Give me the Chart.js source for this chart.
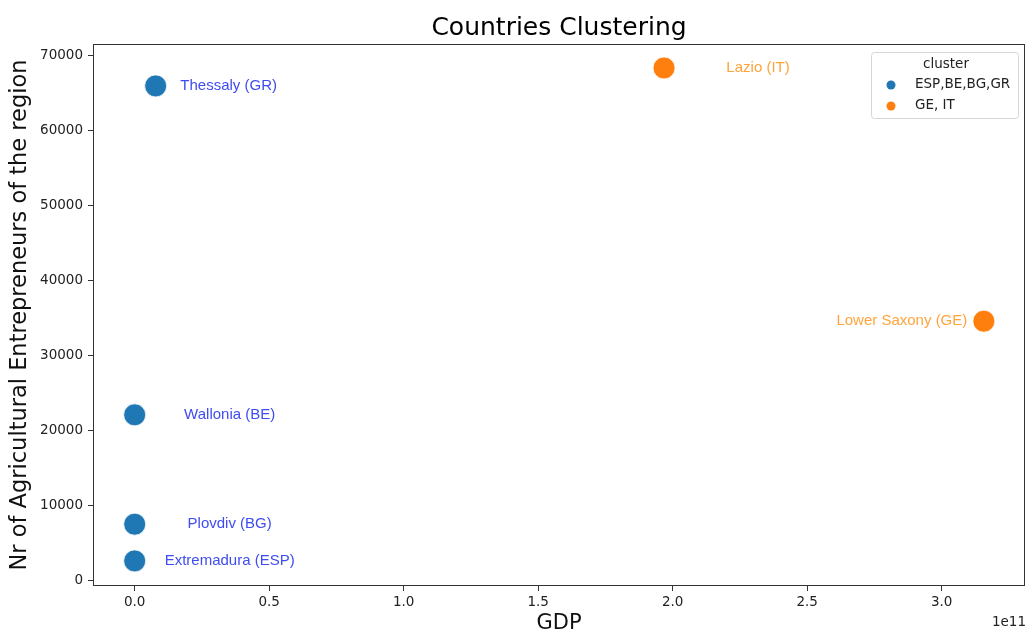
<!DOCTYPE html>
<html>
<head>
<meta charset="utf-8">
<script src="https://cdn.jsdelivr.net/npm/chart.js@4/dist/chart.umd.min.js"></script>
<style>
  html, body { margin: 0; padding: 0; background: #fff; }
</style>
</head>
<body>
<canvas id="clusterChart" width="1027" height="631"></canvas>
<script>
// data
const regions = ['Thessaly (GR)', 'Wallonia (BE)', 'Plovdiv (BG)', 'Extremadura (ESP)', 'Lazio (IT)', 'Lower Saxony (GE)'];
const gdp = [7.8e9, 0, 0, 0, 1.968e11, 3.157e11];
const entrepreneurs = [66000, 22100, 7500, 2600, 68400, 34600];
const cluster = [0, 0, 0, 0, 1, 1];
const clusterNames = ['ESP,BE,BG,GR', 'GE, IT'];
const xTicks = [0, 0.5e11, 1.0e11, 1.5e11, 2.0e11, 2.5e11, 3.0e11];
const yTicks = [0, 10000, 20000, 30000, 40000, 50000, 60000, 70000];

const clusterColors = ['#1f77b4', '#ff7f0e'];
const labelColors = ['#3f4cf0', '#ffa43d'];
// horizontal shift of each region label from its point, in px
const labelDx = [73, 95, 95, 95, 94, -82];

const datasets = clusterNames.map((name, c) => ({
  label: name,
  data: gdp.map((g, i) => ({x: g, y: entrepreneurs[i]})).filter((p, i) => cluster[i] === c),
  backgroundColor: clusterColors[c],
  borderColor: '#ffffff',
  borderWidth: 0.8,
  pointRadius: 11,
  pointHoverRadius: 11
}));

// box around plot, point labels, legend and the 1e11 offset text
const extras = {
  id: 'extras',
  afterDraw(chart) {
    const {ctx, chartArea: a, scales: {x, y}} = chart;
    ctx.save();
    ctx.strokeStyle = '#333';
    ctx.lineWidth = 1;
    ctx.strokeRect(a.left + 0.5, a.top + 0.5, a.right - a.left - 1, a.bottom - a.top - 1);

    ctx.font = '15px "Liberation Sans", Arial, sans-serif';
    ctx.textAlign = 'center';
    ctx.textBaseline = 'middle';
    regions.forEach((r, i) => {
      ctx.fillStyle = labelColors[cluster[i]];
      ctx.fillText(r, x.getPixelForValue(gdp[i]) + labelDx[i], y.getPixelForValue(entrepreneurs[i]));
    });

    // legend
    ctx.beginPath();
    ctx.roundRect(871.5, 52.5, 147, 66, 3);
    ctx.fillStyle = 'rgba(255,255,255,0.8)';
    ctx.fill();
    ctx.strokeStyle = '#d6d6d6';
    ctx.stroke();
    ctx.font = '13.5px "DejaVu Sans", sans-serif';
    ctx.fillStyle = '#222';
    ctx.fillText('cluster', 946, 64);
    ctx.textAlign = 'left';
    clusterNames.forEach((n, c) => {
      const ly = 84 + c * 21;
      ctx.beginPath();
      ctx.arc(891, ly + 1, 4.5, 0, Math.PI * 2);
      ctx.fillStyle = clusterColors[c];
      ctx.fill();
      ctx.fillStyle = '#222';
      ctx.fillText(n, 915, ly);
    });

    ctx.textAlign = 'right';
    ctx.fillText('1e11', 1026, 622);
    ctx.restore();
  }
};

new Chart(document.getElementById('clusterChart'), {
  type: 'scatter',
  data: {datasets: datasets},
  plugins: [extras],
  options: {
    responsive: false,
    animation: false,
    layout: {autoPadding: false, padding: {left: 0, right: 2, top: 0, bottom: 0}},
    plugins: {
      legend: {display: false},
      tooltip: {enabled: false},
      title: {
        display: true,
        text: 'Countries Clustering',
        fullSize: false,
        color: '#000',
        font: {family: '"DejaVu Sans", sans-serif', size: 25, weight: 'normal', lineHeight: 1.2},
        padding: {top: 13, bottom: 1}
      }
    },
    scales: {
      x: {
        type: 'linear',
        min: -0.155e11,
        max: 3.31e11,
        afterFit: s => { s.height = 45; s.paddingLeft = 0; s.paddingRight = 0; },
        afterBuildTicks: s => { s.ticks = xTicks.map(v => ({value: v})); },
        border: {display: false},
        grid: {drawOnChartArea: false, drawTicks: true, tickLength: 5, tickColor: '#333'},
        ticks: {
          color: '#222',
          padding: 3,
          maxRotation: 0,
          font: {family: '"DejaVu Sans", sans-serif', size: 13.5},
          callback: v => (v / 1e11).toFixed(1)
        },
        title: {
          display: true,
          text: 'GDP',
          color: '#111',
          font: {family: '"DejaVu Sans", sans-serif', size: 21, lineHeight: 0.7},
          padding: {top: 0, bottom: 0}
        }
      },
      y: {
        min: -750,
        max: 71600,
        afterFit: s => { s.width = 93; s.paddingTop = 0; s.paddingBottom = 0; },
        afterBuildTicks: s => { s.ticks = yTicks.map(v => ({value: v})); },
        border: {display: false},
        grid: {drawOnChartArea: false, drawTicks: true, tickLength: 5, tickColor: '#333'},
        ticks: {
          color: '#222',
          padding: 5,
          font: {family: '"DejaVu Sans", sans-serif', size: 13.5},
          callback: v => String(v)
        },
        title: {
          display: true,
          text: 'Nr of Agricultural Entrepreneurs of the region',
          color: '#111',
          font: {family: '"DejaVu Sans", sans-serif', size: 22.5, lineHeight: 1.2},
          padding: {top: 7, bottom: 0}
        }
      }
    }
  }
});
</script>
</body>
</html>
